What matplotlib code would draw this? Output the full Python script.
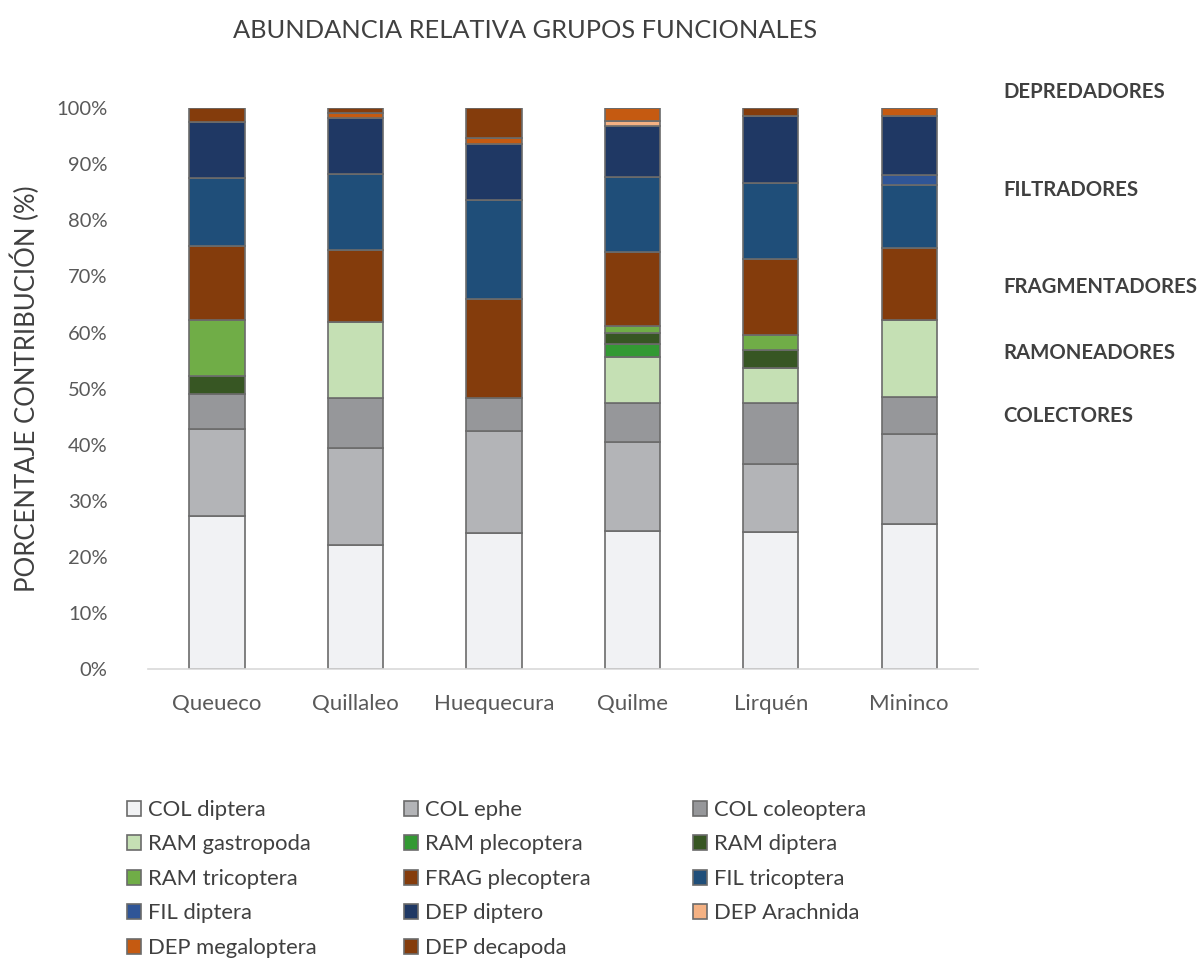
import numpy as np
import matplotlib
matplotlib.use('Agg')
import matplotlib.pyplot as plt

plt.rcParams['font.family'] = ['Lato', 'DejaVu Sans']

sites = ['Queueco', 'Quillaleo', 'Huequecura', 'Quilme', 'Lirquén', 'Mininco']

groups = ['COL diptera', 'COL ephe', 'COL coleoptera',
          'RAM gastropoda', 'RAM plecoptera', 'RAM diptera', 'RAM tricoptera',
          'FRAG plecoptera', 'FIL tricoptera', 'FIL diptera',
          'DEP diptero', 'DEP Arachnida', 'DEP megaloptera', 'DEP decapoda']

# percent contribution per site, one list per group (same order as sites)
col_diptera     = [27.4, 22.1, 24.2, 24.7, 24.5, 25.9]
col_ephe        = [15.4, 17.3, 18.3, 15.8, 12.0, 16.0]
col_coleoptera  = [6.2, 8.9, 5.8, 6.9, 10.9, 6.7]
ram_gastropoda  = [0.0, 13.6, 0.0, 8.2, 6.2, 13.6]
ram_plecoptera  = [0.0, 0.0, 0.0, 2.4, 0.0, 0.0]
ram_diptera     = [3.3, 0.0, 0.0, 1.9, 3.2, 0.0]
ram_tricoptera  = [9.9, 0.0, 0.0, 1.2, 2.8, 0.0]
frag_plecoptera = [13.3, 12.8, 17.7, 13.2, 13.5, 12.9]
fil_tricoptera  = [12.0, 13.6, 17.6, 13.4, 13.5, 11.2]
fil_diptera     = [0.0, 0.0, 0.0, 0.0, 0.0, 1.7]
dep_diptero     = [10.0, 9.9, 9.9, 9.1, 12.0, 10.6]
dep_arachnida   = [0.0, 0.0, 0.0, 0.9, 0.0, 0.0]
dep_megaloptera = [0.0, 0.9, 1.1, 2.3, 0.0, 1.4]
dep_decapoda    = [2.5, 0.9, 5.4, 0.0, 1.4, 0.0]

values = [col_diptera, col_ephe, col_coleoptera, ram_gastropoda, ram_plecoptera,
          ram_diptera, ram_tricoptera, frag_plecoptera, fil_tricoptera,
          fil_diptera, dep_diptero, dep_arachnida, dep_megaloptera, dep_decapoda]

colors = ['#F1F2F4', '#B3B4B7', '#96979A', '#C5E0B4', '#339933', '#375623',
          '#70AD47', '#843C0C', '#1F4E79', '#2F5597', '#1F3864', '#F4B183',
          '#C55A11', '#843C0C']

group_labels = ['DEPREDADORES', 'FILTRADORES', 'FRAGMENTADORES',
                'RAMONEADORES', 'COLECTORES']

fig = plt.figure(figsize=(12.02, 9.6), dpi=100)
ax = fig.add_axes([0.123, 0.3028, 0.691, 0.5847])

x = np.arange(len(sites))
bottom = np.zeros(len(sites))
handles = []
for name, vals, c in zip(groups, values, colors):
    vals = np.array(vals) / 100.0
    b = ax.bar(x, vals, 0.4, bottom=bottom, color=c, edgecolor='#6B6B6B',
               linewidth=1.2, label=name, zorder=2)
    handles.append(b)
    bottom += vals

ax.set_xlim(-0.5, len(sites) - 0.5)
ax.set_ylim(0, 1.0)
ax.set_yticks(np.arange(0, 1.01, 0.1))
ax.set_yticklabels([f'{int(round(v * 100))}%' for v in np.arange(0, 1.01, 0.1)])
ax.set_xticks(x)
ax.set_xticklabels(sites)
ax.tick_params(length=0, labelcolor='#595959')
ax.tick_params(axis='x', pad=18, labelsize=16)
ax.tick_params(axis='y', pad=29, labelsize=14.5)
for s in ['top', 'right', 'left']:
    ax.spines[s].set_visible(False)
ax.spines['bottom'].set_color('#D9D9D9')
ax.spines['bottom'].set_linewidth(1.2)

ax.set_ylabel('PORCENTAJE CONTRIBUCIÓN (%)', fontsize=18.5, color='#404040',
              labelpad=12)

fig.text(0.437, 0.968, 'ABUNDANCIA RELATIVA GRUPOS FUNCIONALES', ha='center',
         va='center', fontsize=18.3, color='#404040')

# functional group names on the right
label_y = [92, 190, 287, 353, 416]
for lab, yy in zip(group_labels, label_y):
    fig.text(1003 / 1202, 1 - yy / 960, lab, ha='left', va='center',
             fontsize=14.7, fontweight='bold', color='#404040')

# legend in three columns, filled row by row
col_x = [127, 404, 693]
for j in range(3):
    idx = list(range(j, len(groups), 3))
    leg = fig.legend([handles[i] for i in idx], [groups[i] for i in idx],
                     loc='upper left',
                     bbox_to_anchor=(col_x[j] / 1202, 1 - 800 / 960),
                     frameon=False, fontsize=15.8, handlelength=0.65,
                     handleheight=0.65, handletextpad=0.3, labelspacing=0.66,
                     borderaxespad=0, borderpad=0)
    for t in leg.get_texts():
        t.set_color('#404040')

fig.savefig('out.png', dpi=100)
